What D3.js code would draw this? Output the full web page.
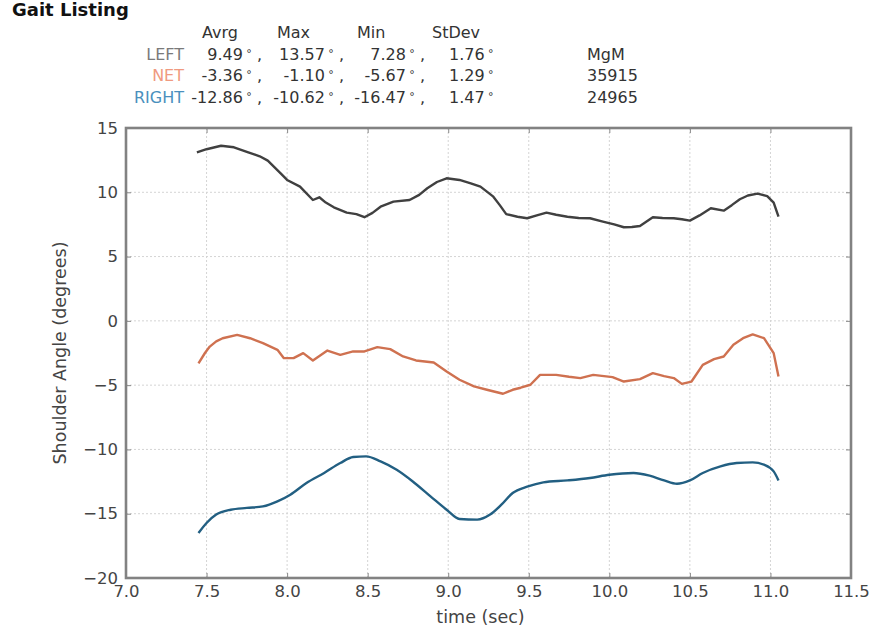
<!DOCTYPE html>
<html>
<head>
<meta charset="utf-8">
<script src="https://cdn.jsdelivr.net/npm/d3@7"></script>
<style>
  body { margin: 0; background: #fff; }
  svg { display: block; font-family: "DejaVu Sans", sans-serif; }
</style>
</head>
<body>
<svg id="chart" width="872" height="634"></svg>
<script>
// summary table
var statHeaders = ["Avrg", "Max", "Min", "StDev"];
var rowNames = ["LEFT", "NET", "RIGHT"];
var statValues = [
  [9.49, 13.57, 7.28, 1.76],
  [-3.36, -1.10, -5.67, 1.29],
  [-12.86, -10.62, -16.47, 1.47]
];
var mgmHeader = "MgM";
var mgmValues = ["", "35915", "24965"];

// axis ticks
var xTicks = [7.0, 7.5, 8.0, 8.5, 9.0, 9.5, 10.0, 10.5, 11.0, 11.5];
var yTicks = [-20, -15, -10, -5, 0, 5, 10, 15];

// series, [time, angle]
var leftSeries = [
  [7.44, 13.1], [7.50, 13.35], [7.59, 13.62], [7.67, 13.5], [7.75, 13.15], [7.83, 12.8],
  [7.88, 12.46], [7.96, 11.47], [8.00, 10.96], [8.08, 10.44], [8.16, 9.40], [8.20, 9.61],
  [8.24, 9.2], [8.29, 8.83], [8.37, 8.42], [8.43, 8.3], [8.48, 8.06], [8.53, 8.4],
  [8.58, 8.88], [8.66, 9.27], [8.76, 9.40], [8.82, 9.8], [8.87, 10.31], [8.93, 10.8],
  [8.99, 11.09], [9.07, 10.96], [9.14, 10.7], [9.20, 10.44], [9.28, 9.66], [9.32, 9.0],
  [9.36, 8.3], [9.43, 8.1], [9.49, 7.98], [9.55, 8.2], [9.61, 8.42], [9.67, 8.25],
  [9.74, 8.10], [9.81, 8.0], [9.88, 7.98], [9.96, 7.72], [10.03, 7.5], [10.09, 7.28],
  [10.14, 7.3], [10.19, 7.38], [10.27, 8.06], [10.33, 8.0], [10.40, 7.98], [10.45, 7.9],
  [10.50, 7.80], [10.56, 8.2], [10.63, 8.76], [10.71, 8.57], [10.76, 9.0], [10.81, 9.46],
  [10.86, 9.75], [10.92, 9.9], [10.98, 9.7], [11.02, 9.2], [11.05, 8.1]
];
var netSeries = [
  [7.45, -3.3], [7.49, -2.5], [7.52, -2.0], [7.56, -1.6], [7.60, -1.35], [7.69, -1.09],
  [7.77, -1.35], [7.85, -1.73], [7.94, -2.25], [7.98, -2.9], [8.04, -2.9], [8.10, -2.51],
  [8.16, -3.08], [8.25, -2.31], [8.33, -2.64], [8.41, -2.38], [8.48, -2.38], [8.56, -2.04],
  [8.64, -2.2], [8.72, -2.77], [8.80, -3.08], [8.91, -3.24], [8.99, -3.94], [9.07, -4.58],
  [9.16, -5.1], [9.24, -5.36], [9.34, -5.67], [9.40, -5.36], [9.45, -5.2], [9.51, -4.97],
  [9.57, -4.2], [9.67, -4.2], [9.75, -4.35], [9.82, -4.45], [9.90, -4.2], [10.02, -4.38],
  [10.09, -4.72], [10.19, -4.53], [10.27, -4.07], [10.34, -4.3], [10.40, -4.45], [10.45, -4.9],
  [10.51, -4.72], [10.58, -3.42], [10.65, -2.98], [10.71, -2.77], [10.77, -1.86], [10.83, -1.35],
  [10.89, -1.05], [10.96, -1.35], [11.02, -2.51], [11.05, -4.33]
];
var rightSeries = [
  [7.45, -16.5], [7.50, -15.72], [7.56, -15.07], [7.65, -14.69], [7.75, -14.55], [7.85, -14.43],
  [7.94, -14.04], [8.02, -13.52], [8.12, -12.61], [8.23, -11.83], [8.33, -11.06], [8.41, -10.59],
  [8.49, -10.54], [8.58, -10.93], [8.68, -11.58], [8.78, -12.49], [8.89, -13.65], [8.99, -14.69],
  [9.07, -15.41], [9.18, -15.46], [9.26, -15.07], [9.33, -14.3], [9.40, -13.39], [9.49, -12.9],
  [9.59, -12.56], [9.74, -12.41], [9.88, -12.22], [10.00, -11.97], [10.15, -11.83], [10.25, -12.04],
  [10.34, -12.41], [10.42, -12.67], [10.50, -12.41], [10.58, -11.83], [10.69, -11.32], [10.79, -11.06],
  [10.89, -11.01], [10.96, -11.19], [11.02, -11.71], [11.05, -12.41]
];

var svg = d3.select("#chart");
var minus = function(s) { return s.replace(/-/g, "\u2212"); };

// title + table
svg.append("text").attr("x", 12).attr("y", 16)
    .attr("font-size", 18).attr("font-weight", "bold").attr("fill", "#111")
    .text("Gait Listing");

var rowColors = ["#7a7a7a", "#f09a80", "#4a8fbd"];
var headX = [202, 277, 357, 432];
var colEnd = [262, 344, 425];
var lastColX = 449;
var rowY = [60, 81, 103];

var table = svg.append("g").attr("font-size", 16).attr("fill", "#333");
statHeaders.forEach(function(h, i) {
  table.append("text").attr("x", headX[i]).attr("y", 38).text(h);
});
function cell(sel, v, withComma) {
  sel.append("tspan").text(v.toFixed(2));
  sel.append("tspan").attr("font-size", 11).attr("dy", -3).text("\u00a0°");
  if (withComma) sel.append("tspan").attr("dy", 3).text("\u00a0,");
}
statValues.forEach(function(vals, r) {
  var firstStart = 9999;
  vals.forEach(function(v, c) {
    var t = table.append("text").attr("y", rowY[r]);
    if (c < 3) {
      t.attr("x", colEnd[c]).attr("text-anchor", "end");
      cell(t, v, true);
    } else {
      t.attr("x", lastColX);
      cell(t, v, false);
    }
    if (c === 0) firstStart = colEnd[0] - t.node().getComputedTextLength();
  });
  table.append("text").attr("y", rowY[r]).attr("text-anchor", "end")
      .attr("x", Math.min(184, firstStart - 1))
      .attr("fill", rowColors[r]).text(rowNames[r]);
});
table.append("text").attr("x", 587).attr("y", rowY[0]).text(mgmHeader);
mgmValues.forEach(function(m, r) {
  if (m) table.append("text").attr("x", 587).attr("y", rowY[r]).text(m);
});

// plot area
var margin = {top: 128, right: 21, bottom: 56, left: 126},
    width = 872 - margin.left - margin.right,
    height = 634 - margin.top - margin.bottom;
var g = svg.append("g").attr("transform", "translate(" + margin.left + "," + margin.top + ")");

var x = d3.scaleLinear().domain([7.0, 11.5]).range([0, width]);
var y = d3.scaleLinear().domain([-20, 15]).range([height, 0]);

// grid
g.append("g").selectAll("line").data(xTicks).enter().append("line")
    .attr("x1", function(d) { return x(d); }).attr("x2", function(d) { return x(d); })
    .attr("y1", 0).attr("y2", height)
    .attr("stroke", "#d4d4d4").attr("stroke-dasharray", "2,2");
g.append("g").selectAll("line").data(yTicks).enter().append("line")
    .attr("y1", function(d) { return y(d); }).attr("y2", function(d) { return y(d); })
    .attr("x1", 0).attr("x2", width)
    .attr("stroke", "#d4d4d4").attr("stroke-dasharray", "2,2");

// lines
var line = d3.line()
    .x(function(d) { return x(d[0]); })
    .y(function(d) { return y(d[1]); });
var series = [
  {values: leftSeries, color: "#404040", curve: d3.curveLinear},
  {values: netSeries, color: "#cf7150", curve: d3.curveLinear},
  {values: rightSeries, color: "#225f82", curve: d3.curveMonotoneX}
];
series.forEach(function(s) {
  g.append("path")
      .attr("d", line.curve(s.curve)(s.values))
      .attr("fill", "none").attr("stroke", s.color)
      .attr("stroke-width", 2.4).attr("stroke-linejoin", "round");
});

// axes
var fmtX = function(d) { return d.toFixed(1); };
var fmtY = function(d) { return minus(String(d)); };
function styleAxis(sel) {
  sel.select(".domain").remove();
  sel.selectAll(".tick line").attr("stroke", "#888");
  sel.selectAll(".tick text").attr("fill", "#444").attr("font-size", 16.5)
      .attr("font-family", "DejaVu Sans, sans-serif");
}
g.append("g").attr("transform", "translate(0," + height + ")")
    .call(d3.axisBottom(x).tickValues(xTicks).tickFormat(fmtX).tickSizeInner(-5).tickPadding(7))
    .call(styleAxis);
g.append("g")
    .call(d3.axisLeft(y).tickValues(yTicks).tickFormat(fmtY).tickSizeInner(-5).tickPadding(8))
    .call(styleAxis);
g.append("g").attr("transform", "translate(" + width + ",0)")
    .call(d3.axisRight(y).tickValues(yTicks).tickFormat("").tickSizeInner(-5))
    .call(styleAxis);
g.append("g")
    .call(d3.axisTop(x).tickValues(xTicks).tickFormat("").tickSizeInner(-5))
    .call(styleAxis);

// frame
g.append("rect").attr("width", width).attr("height", height)
    .attr("fill", "none").attr("stroke", "#828282").attr("stroke-width", 2.6);

// axis labels
svg.append("text").attr("x", margin.left + width / 2 - 8).attr("y", 623)
    .attr("text-anchor", "middle").attr("font-size", 17.5).attr("fill", "#444")
    .text("time (sec)");
svg.append("text")
    .attr("transform", "translate(66," + (margin.top + height / 2) + ") rotate(-90)")
    .attr("text-anchor", "middle").attr("font-size", 17.5).attr("fill", "#444")
    .text("Shoulder Angle (degrees)");
</script>
</body>
</html>
